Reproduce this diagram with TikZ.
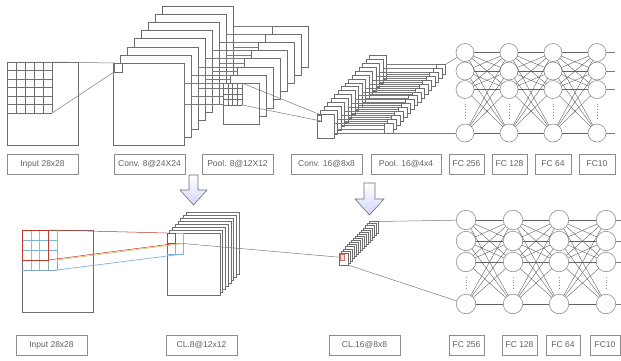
\documentclass[tikz,border=0pt]{standalone}
\usepackage{fontspec}
\setmainfont{Liberation Sans}
\usetikzlibrary{calc}
\definecolor{mapc}{HTML}{6E6E6E}
\definecolor{boxc}{HTML}{8C8C8C}
\definecolor{txtc}{HTML}{606060}
\definecolor{linkc}{HTML}{7A7A7A}
\definecolor{nrnc}{HTML}{8E8E8E}
\definecolor{arrowfill}{HTML}{E3E8F1}
\definecolor{rfred}{HTML}{C0392B}
\definecolor{rfyel}{HTML}{D4B24C}
\definecolor{rfblue}{HTML}{7FB3D9}
\definecolor{rfgreen}{HTML}{9CC49C}
\definecolor{pinkfill}{HTML}{F9DDE6}
\begin{document}
\begin{tikzpicture}[x=1pt,y=-1pt,
  map/.style={draw=mapc, fill=white, line width=0.6pt, inner sep=0pt, outer sep=0pt, anchor=north west},
  lbl/.style={draw=boxc, line width=0.6pt, inner sep=0pt, outer sep=0pt, anchor=north west,
              minimum height=20pt, font=\fontsize{8.5}{10}\selectfont, text=txtc},
  neuron/.style={circle, draw=nrnc, fill=white, line width=0.6pt, inner sep=0pt, outer sep=0pt},
  link/.style={draw=linkc, line width=0.5pt},
  wire/.style={draw=linkc!80!black, line width=0.4pt},
  gridln/.style={draw=mapc, line width=0.5pt},
  vdots/.style={draw=nrnc, line width=0.8pt, dotted},
  downarrow/.style={draw=mapc, line width=0.6pt, top color=white, bottom color=arrowfill!80!blue!60!white},
]
\useasboundingbox (0,0) rectangle (621,360);

% ================= upper network =================
% input image with its pixel grid
\node[map, minimum width=71pt, minimum height=83pt] (tin) at (7,62) {};
\foreach \i in {0,...,5} \draw[gridln] ({7+9*\i},62) -- ({7+9*\i},113);
\foreach \j in {0,...,6} \draw[gridln] (7,{62+8.5*\j}) -- (52,{62+8.5*\j});

% convolution maps 8@24x24
\foreach \k in {7,6,...,0}
  \node[map, minimum width=71pt, minimum height=82pt] (cv\k) at ({113+7.1*\k},{63-8.1*\k}) {};
\node[map, minimum width=8pt, minimum height=9pt] (rf1) at (114,63) {};
\coordinate (g1ne) at (52,62);
\coordinate (g1se) at (52,113);
\draw[link] (g1ne) -- (rf1.north west);
\draw[link] (g1se) -- (rf1.south west);

% pooling links, one pair per map
\foreach \k in {0,...,7} {
  \coordinate (ca\k) at ({184+7.1*\k},{83-8.1*\k});
  \coordinate (cb\k) at ({184+7.1*\k},{104-8.1*\k});
  \coordinate (pa\k) at ({223+7.1*\k},{83-8.1*\k});
  \coordinate (pb\k) at ({223+7.1*\k},{104-8.1*\k});
  \draw[link] (ca\k) -- (pa\k);
  \draw[link] (cb\k) -- (pb\k);
}

% pooling maps 8@12x12
\foreach \k in {7,6,...,0}
  \node[map, minimum width=36pt, minimum height=41pt] (pl\k) at ({223+7.1*\k},{83-8.1*\k}) {};
\foreach \i in {0,...,4} \draw[gridln] ({223+4.75*\i},83) -- ({223+4.75*\i},105);
\foreach \j in {0,...,4} \draw[gridln] (223,{83+5.5*\j}) -- (242,{83+5.5*\j});

% convolution maps 16@8x8
\foreach \k in {15,14,...,0}
  \node[map, minimum width=17pt, minimum height=24pt] (cq\k) at ({317+3.5*\k},{114-3.9*\k}) {};
\node[map, minimum width=4pt, minimum height=6pt] (rf2) at (317,115) {};
\coordinate (pg1) at (242,83);
\coordinate (pg2) at (242,105);
\draw[link] (pg1) -- (rf2.north east);
\draw[link] (pg2) -- (rf2.south east);

\foreach \k in {0,...,15} {
  \coordinate (qa\k) at ({334+3.5*\k},{123-3.9*\k});
  \coordinate (qb\k) at ({334+3.5*\k},{133-3.9*\k});
  \coordinate (ra\k) at ({384+3.5*\k},{123-3.9*\k});
  \coordinate (rb\k) at ({384+3.5*\k},{133-3.9*\k});
  \draw[link] (qa\k) -- (ra\k);
  \draw[link] (qb\k) -- (rb\k);
}

% pooling maps 16@4x4
\foreach \k in {15,14,...,0}
  \node[map, minimum width=9pt, minimum height=10pt] (pq\k) at ({384+3.5*\k},{123-3.9*\k}) {};

% fully connected layers
\foreach \c/\x in {1/465,2/509,3/553,4/597}
  \foreach \r/\y in {1/52.5,2/71,3/89.5,4/133}
    \node[neuron, minimum size=18pt] (t\c\r) at (\x,\y) {};
\foreach \c/\n in {1/2,2/3,3/4}
  \foreach \a in {1,...,4}
    \foreach \b in {1,...,4}
      \draw[wire] (t\c\a) -- (t\n\b);
\foreach \c in {1,...,4}
  \draw[vdots] ($(t\c3.south)+(0,5)$) -- ($(t\c4.north)+(0,-5)$);
\foreach \r/\y in {1/52.5,2/71,3/89.5,4/133} {
  \coordinate (to\r) at (615,\y);
  \draw[link] (t4\r) -- (to\r);
}
\draw[link] (pq15.north east) -- (t11);
\draw[link] (pq0.south east) -- (t14);

% upper labels
\node[lbl, minimum width=71pt] (lt1) at (7,154) {Input 28x28};
\node[lbl, minimum width=71pt] (lt2) at (114,154) {Conv. 8@24X24};
\node[lbl, minimum width=71pt] (lt3) at (202,154) {Pool. 8@12X12};
\node[lbl, minimum width=71pt] (lt4) at (291,154) {Conv. 16@8x8};
\node[lbl, minimum width=70pt] (lt5) at (371,154) {Pool. 16@4x4};
\node[lbl, minimum width=35pt] (lt6) at (449,154) {FC 256};
\node[lbl, minimum width=35pt] (lt7) at (492,154) {FC 128};
\node[lbl, minimum width=36pt] (lt8) at (535,154) {FC 64};
\node[lbl, minimum width=36pt] (lt9) at (579,154) {FC10};

% transition arrows
\draw[downarrow] (189,175) -- (198,175) -- (198,190) -- (207,190) -- (193.5,205)
                 -- (180,190) -- (189,190) -- cycle;
\draw[downarrow] (364,183) -- (375,183) -- (375,199) -- (384,199) -- (369.5,215)
                 -- (355,199) -- (364,199) -- cycle;

% ================= lower network =================
\node[map, minimum width=71pt, minimum height=82pt] (bin) at (22,230) {};
% pixel grid with the four overlapping receptive fields
\draw[rfgreen, line width=0.5pt] (30.75,230) -- (30.75,270);
\draw[rfgreen, line width=0.5pt] (39.5,230) -- (39.5,270);
\draw[rfgreen!70!gray, line width=0.5pt] (48.25,260) -- (48.25,270);
\draw[rfblue, line width=0.5pt] (22,240) -- (57,240);
\draw[rfblue, line width=0.5pt] (22,250) -- (57,250);
\draw[rfblue!80!gray, line width=0.5pt] (22,270) -- (57,270);
\draw[rfyel, line width=0.5pt] (57,230) -- (57,262);
\draw[rfblue!80!gray, line width=0.5pt] (57,262) -- (57,270);
\draw[rfred, line width=0.6pt] (22,230) rectangle (48.25,260);

% CL maps 8@12x12
\foreach \k in {7,6,...,0}
  \node[map, minimum width=53pt, minimum height=62pt] (cl\k) at ({167+2.7*\k},{233-3*\k}) {};
\draw[rfblue, line width=0.5pt] (167,254) -- (183,254) -- (183,243.5);
\draw[rfblue, line width=0.5pt] (175,243.5) -- (175,254);
\draw[rfyel, line width=0.5pt] (175,233) -- (183,233) -- (183,243.5) -- (167,243.5);
\draw[rfred, line width=0.7pt] (167,233) rectangle (175,243.5);

\coordinate (fr1) at (48.25,230);
\coordinate (fr2) at (48.25,260);
\coordinate (fy1) at (57,260);
\coordinate (fb1) at (57,270);
\coordinate (cr1) at (167,233);
\coordinate (cr2) at (175,243.5);
\coordinate (cy1) at (183,243.5);
\coordinate (cb1) at (183,254);
\draw[rfred, line width=0.5pt] (fr1) -- (cr1);
\draw[rfred, line width=0.5pt] (fr2) -- (cr2);
\draw[rfyel, line width=0.5pt] (fy1) -- (cy1);
\draw[rfblue, line width=0.7pt] (fb1) -- (cb1);

% CL maps 16@8x8
\foreach \k in {15,14,...,0}
  \node[map, minimum width=9pt, minimum height=12pt] (cs\k) at ({339+2*\k},{253-2.1*\k}) {};
\node[draw=rfred!70, fill=pinkfill, line width=0.5pt, inner sep=0pt, outer sep=0pt,
      anchor=north west, minimum width=4.5pt, minimum height=5.5pt] (rf3) at (340,254.5) {};
\coordinate (clout) at (183,243.5);
\draw[link] (clout) -- (rf3.west);

% fully connected layers
\foreach \c/\x in {1/466,2/513,3/559,4/606}
  \foreach \r/\y in {1/220,2/241,3/262,4/304}
    \node[neuron, minimum size=19.5pt] (b\c\r) at (\x,\y) {};
\foreach \c/\n in {1/2,2/3,3/4}
  \foreach \a in {1,...,4}
    \foreach \b in {1,...,4}
      \draw[wire] (b\c\a) -- (b\n\b);
\foreach \c in {1,...,4}
  \draw[vdots] ($(b\c3.south)+(0,5)$) -- ($(b\c4.north)+(0,-5)$);
\foreach \r/\y in {1/220,2/241,3/262,4/304} {
  \coordinate (bo\r) at (621,\y);
  \draw[link] (b4\r) -- (bo\r);
}
\draw[link] (cs15.north east) -- (b11);
\draw[link] (cs0.south east) -- (b14);

% lower labels
\node[lbl, minimum width=71pt] (lb1) at (16,335) {Input 28x28};
\node[lbl, minimum width=71pt] (lb2) at (166,335) {CL.8@12x12};
\node[lbl, minimum width=71pt] (lb3) at (329,335) {CL.16@8x8};
\node[lbl, minimum width=35pt] (lb4) at (449,335) {FC 256};
\node[lbl, minimum width=35pt] (lb5) at (502,335) {FC 128};
\node[lbl, minimum width=34pt] (lb6) at (546,335) {FC 64};
\node[lbl, minimum width=30pt] (lb7) at (590,335) {FC10};
\end{tikzpicture}
\end{document}
